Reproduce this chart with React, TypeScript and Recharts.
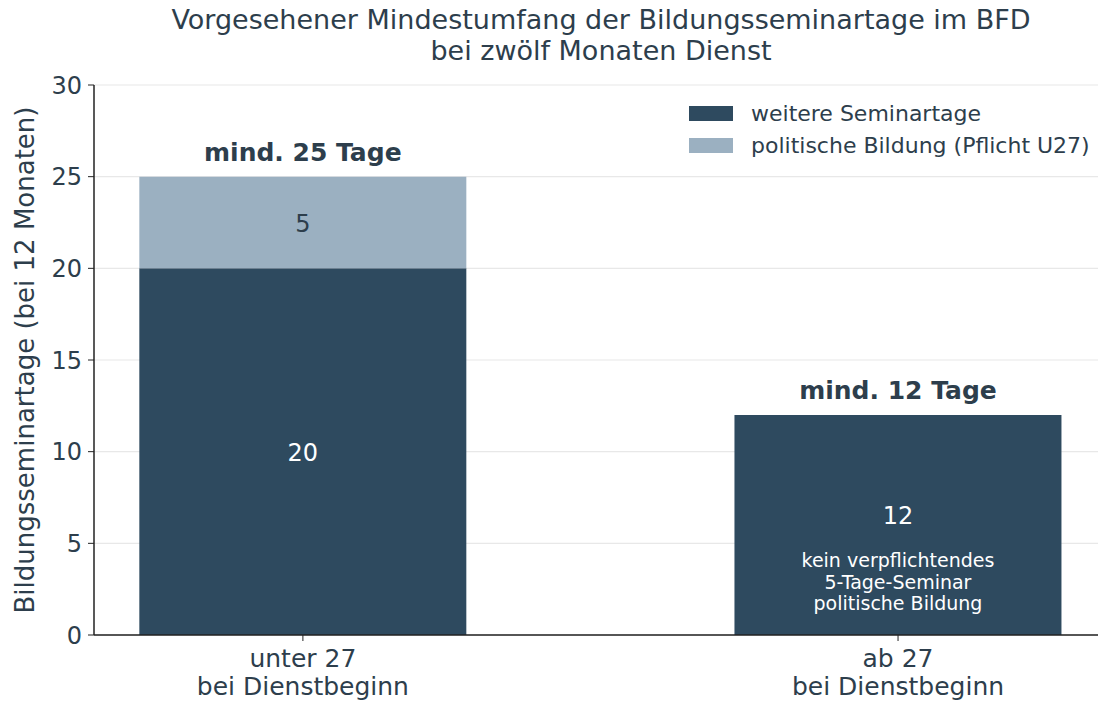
import { BarChart, Bar, XAxis, YAxis, CartesianGrid, LabelList } from "recharts";

const categories = ["unter 27\nbei Dienstbeginn", "ab 27\nbei Dienstbeginn"];
const weitereSeminartage = [20, 12];
const politischeBildung = [5, 0];
const totalLabels = ["mind. 25 Tage", "mind. 12 Tage"];
const yTicks = [0, 5, 10, 15, 20, 25, 30];

const DARK = "#2e4a5f";
const LIGHT = "#9bb0c1";
const TEXT = "#2d3e4c";
const FONT = "'DejaVu Sans', sans-serif";

const data = categories.map((c, i) => ({
  x: i,
  name: c,
  weitere: weitereSeminartage[i],
  politisch: politischeBildung[i],
  total: totalLabels[i],
}));

const XTick = (props: any) => {
  const { x, y, payload } = props;
  const lines = categories[payload.value].split("\n");
  return (
    <text x={x} y={y} textAnchor="middle" fill={TEXT} fontSize={25} fontFamily={FONT}>
      {lines.map((l, i) => (
        <tspan key={i} x={x} dy={i === 0 ? 24 : 28}>
          {l}
        </tspan>
      ))}
    </text>
  );
};

const YLabel = () => (
  <text
    x={25}
    y={360}
    transform="rotate(-90 25 360)"
    textAnchor="middle"
    dominantBaseline="central"
    fill={TEXT}
    fontSize={26}
    fontFamily={FONT}
  >
    Bildungsseminartage (bei 12 Monaten)
  </text>
);

const innerValue = (dark: boolean) => (props: any) => {
  const { x, y, width, height, value, index } = props;
  if (!value) return null;
  const cx = x + width / 2;
  const hasNote = dark && index === 1;
  const cy = hasNote ? y + height / 2 - 10 : y + height / 2;
  return (
    <g>
      <text x={cx} y={cy} dy={9} textAnchor="middle" fill={dark ? "#ffffff" : TEXT} fontSize={24} fontFamily={FONT}>
        {value}
      </text>
      {hasNote && (
        <text x={cx} y={cy} textAnchor="middle" fill="#ffffff" fontSize={19} fontFamily={FONT}>
          <tspan x={cx} dy={52}>kein verpflichtendes</tspan>
          <tspan x={cx} dy={21.5}>5-Tage-Seminar</tspan>
          <tspan x={cx} dy={21.5}>politische Bildung</tspan>
        </text>
      )}
    </g>
  );
};

// drawn from the lower segment so it also shows where the upper one is zero
const totalLabel = (props: any) => {
  const { x, y, width, height, index } = props;
  const pxPerUnit = height / weitereSeminartage[index];
  const top = y - politischeBildung[index] * pxPerUnit;
  return (
    <text x={x + width / 2} y={top - 25} dy={9} textAnchor="middle" fill={TEXT} fontSize={25} fontWeight="bold" fontFamily={FONT}>
      {totalLabels[index]}
    </text>
  );
};

const legendItems = [
  { label: "weitere Seminartage", color: DARK },
  { label: "politische Bildung (Pflicht U27)", color: LIGHT },
];

export default function App() {
  return (
    <div style={{ position: "absolute", left: 0, top: 0, width: 1098, height: 701, background: "#fff" }}>
      <div
        style={{
          position: "absolute",
          top: 4,
          left: 0,
          width: 1202,
          textAlign: "center",
          fontFamily: FONT,
          fontSize: 27,
          lineHeight: "31px",
          color: TEXT,
        }}
      >
        Vorgesehener Mindestumfang der Bildungsseminartage im BFD
        <br />
        bei zwölf Monaten Dienst
      </div>
      <div style={{ position: "absolute", top: 97, left: 689, fontFamily: FONT, fontSize: 22, color: TEXT }}>
        {legendItems.map((e) => (
          <div key={e.label} style={{ display: "flex", alignItems: "center", height: 32 }}>
            <div style={{ width: 44, height: 15, background: e.color, marginRight: 18 }} />
            <span>{e.label}</span>
          </div>
        ))}
      </div>
      <BarChart width={1098} height={701} data={data} margin={{ top: 85, right: 0, bottom: 0, left: 0 }}>
        <CartesianGrid horizontal vertical={false} stroke="#e8e8e8" strokeWidth={1.2} />
        <XAxis
          type="number"
          dataKey="x"
          domain={[-0.351, 1.336]}
          ticks={[0, 1]}
          allowDataOverflow
          tick={<XTick />}
          tickSize={6}
          axisLine={{ stroke: "#222", strokeWidth: 1.5 }}
          tickLine={{ stroke: "#222" }}
          height={66}
        />
        <YAxis
          type="number"
          domain={[0, 30]}
          ticks={yTicks}
          width={94}
          tickSize={6}
          tickMargin={6}
          tick={{ fill: TEXT, fontSize: 24, fontFamily: FONT }}
          axisLine={{ stroke: "#222", strokeWidth: 1.5 }}
          tickLine={{ stroke: "#222" }}
          label={<YLabel />}
        />
        <Bar dataKey="weitere" stackId="a" fill={DARK} barSize={327} isAnimationActive={false}>
          <LabelList dataKey="weitere" content={innerValue(true)} />
          <LabelList dataKey="total" content={totalLabel} />
        </Bar>
        <Bar dataKey="politisch" stackId="a" fill={LIGHT} barSize={327} isAnimationActive={false}>
          <LabelList dataKey="politisch" content={innerValue(false)} />
        </Bar>
      </BarChart>
    </div>
  );
}
